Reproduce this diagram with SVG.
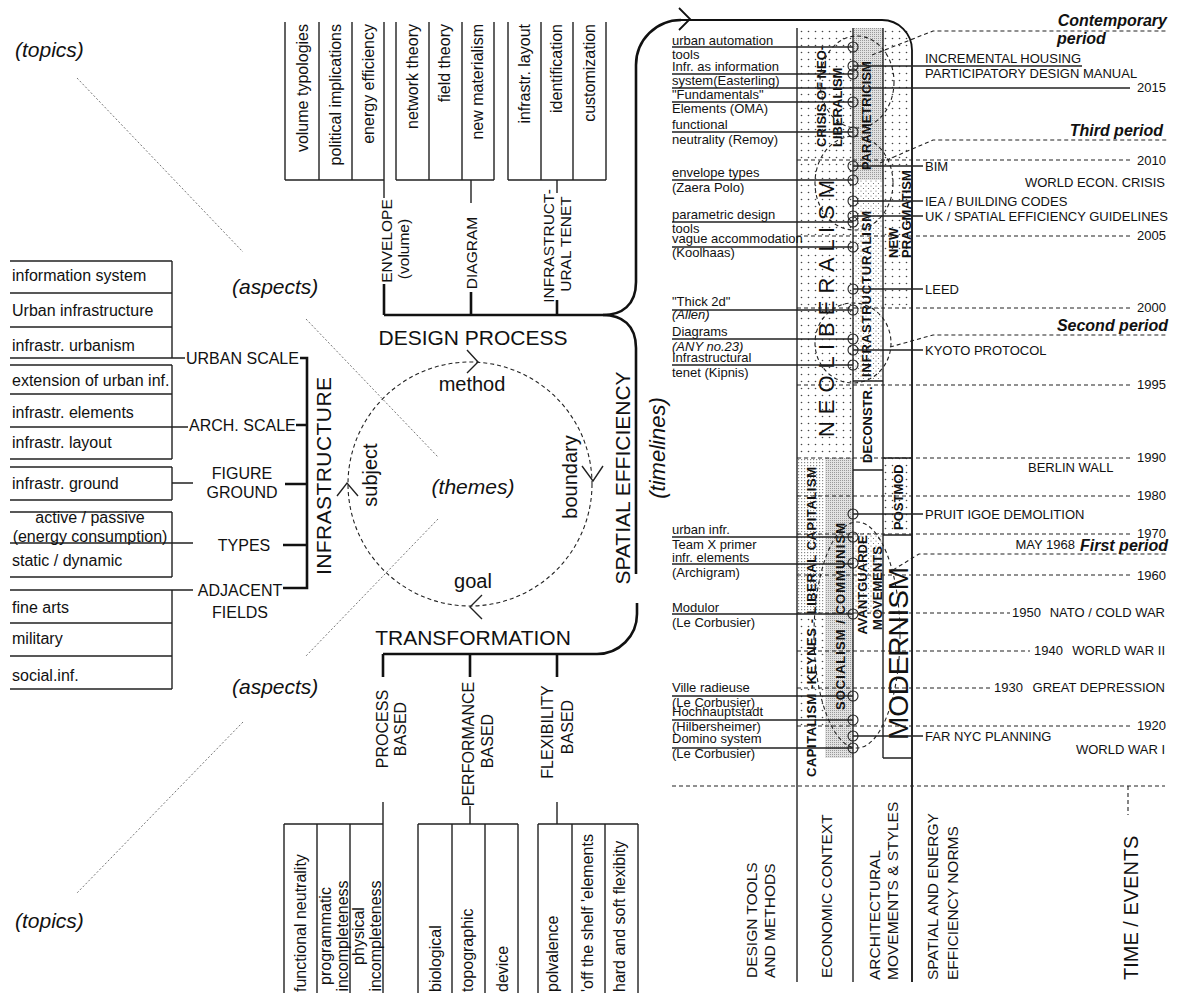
<svg xmlns="http://www.w3.org/2000/svg" width="1181" height="993" viewBox="0 0 1181 993">
<defs>
<style>
text{font-family:"Liberation Sans",Arial,Helvetica,sans-serif;fill:#111}
.it{font-style:italic}
.b{font-weight:bold}
.ln{stroke:#222;stroke-width:1.4;fill:none}
.thk{stroke:#111;stroke-width:2.6;fill:none}
.fr{stroke:#111;stroke-width:1.8;fill:none}
.dsh{stroke:#222;stroke-width:1.1;stroke-dasharray:4 3;fill:none}
.dot{stroke:#666;stroke-width:0.9;stroke-dasharray:2 2;fill:none}
.c{fill:none;stroke:#222;stroke-width:1.1}
.r{dominant-baseline:central}
.f13{font-size:13px}
.f15{font-size:15.5px}
.f16{font-size:16px}
.f20{font-size:20px}
.f21{font-size:21px}
.bi{font-weight:bold;font-style:italic;font-size:16px}
</style>
<pattern id="sp" width="7" height="7" patternUnits="userSpaceOnUse"><circle cx="3.5" cy="3.5" r="0.8" fill="#444"/></pattern>
<pattern id="dn" width="2" height="2" patternUnits="userSpaceOnUse"><rect width="2" height="2" fill="#e2e2e2"/><rect width="1" height="1" fill="#9a9a9a"/></pattern>
<pattern id="st" width="5" height="5" patternUnits="userSpaceOnUse"><circle cx="1" cy="1" r="0.6" fill="#666"/><circle cx="3.5" cy="3.5" r="0.6" fill="#666"/></pattern>
<pattern id="fn" width="3" height="3" patternUnits="userSpaceOnUse"><rect width="1.2" height="1.2" fill="#8a8a8a"/></pattern>
</defs>
<rect width="1181" height="993" fill="#fff"/>

<g id="annotations">
<text x="15" y="57" class="it f21">(topics)</text>
<text x="232" y="294" class="it f21">(aspects)</text>
<text x="232" y="694" class="it f21">(aspects)</text>
<text x="15" y="928" class="it f21">(topics)</text>
<line x1="77" y1="78" x2="243" y2="252" class="dot"/>
<line x1="306" y1="319" x2="438" y2="457" class="dot"/>
<line x1="438" y1="519" x2="306" y2="656" class="dot"/>
<line x1="243" y1="722" x2="77" y2="893" class="dot"/>
</g>

<g id="connectors">
<path class="thk" d="M681 20 A45 45 0 0 0 636 65 L636 282 C636 305 622 315 603 315 L384 315"/>
<path class="thk" d="M603 315 C622 315 636 325 636 348 L636 574"/>
<path class="thk" d="M637 603 L637 614 A40 40 0 0 1 597 654 L383 654"/>
<path class="fr" d="M679 8 L690 19 L679 30"/>
<path class="thk" d="M384 284 L384 315 M471 292 L471 315 M557 300 L557 315"/>
<path class="ln" d="M384 180 L384 198 M471 180 L471 203 M557 180 L557 193"/>
<path class="thk" d="M383 654 L383 677 M470 654 L470 677 M557 654 L557 677"/>
<path class="ln" d="M383 802 L383 824 M470 806 L470 824 M557 802 L557 824"/>
<path class="thk" d="M300 358 L307 358 L307 588 L283 588 M296 425 L307 425 M285 484 L307 484 M283 545 L307 545"/>
<path class="ln" d="M172 358 L185 358 M172 427 L188 427 M172 483 L193 483 M10 543 L193 543 M10 590 L193 590"/>
</g>

<g id="envelope">
<path class="ln" d="M285 22 V180 M319 22 V180 M352 22 V180 M384 22 V180 M285 180 H384"/>
<text transform="translate(302,24) rotate(-90)" text-anchor="end" class="r f16">volume typologies</text>
<text transform="translate(335,24) rotate(-90)" text-anchor="end" class="r f16">political implications</text>
<text transform="translate(368,24) rotate(-90)" text-anchor="end" class="r f16">energy efficiency</text>
<text transform="translate(386,241) rotate(-90)" text-anchor="middle" class="r f15">ENVELOPE</text>
<text transform="translate(403,249) rotate(-90)" text-anchor="middle" class="r f15">(volume)</text>
</g>

<g id="diagram">
<path class="ln" d="M396 22 V180 M429 22 V180 M462 22 V180 M494 22 V180 M396 180 H494"/>
<text transform="translate(412,24) rotate(-90)" text-anchor="end" class="r f16">network theory</text>
<text transform="translate(444,24) rotate(-90)" text-anchor="end" class="r f16">field theory</text>
<text transform="translate(477,24) rotate(-90)" text-anchor="end" class="r f16">new materialism</text>
<text transform="translate(471,253) rotate(-90)" text-anchor="middle" class="r f15">DIAGRAM</text>
</g>

<g id="tenet">
<path class="ln" d="M508 22 V180 M541 22 V180 M573 22 V180 M606 22 V180 M508 180 H606"/>
<text transform="translate(524,24) rotate(-90)" text-anchor="end" class="r f16">infrastr. layout</text>
<text transform="translate(556,24) rotate(-90)" text-anchor="end" class="r f16">identification</text>
<text transform="translate(589,24) rotate(-90)" text-anchor="end" class="r f16">customization</text>
<text transform="translate(548,246) rotate(-90)" text-anchor="middle" class="r f15">INFRASTRUCT-</text>
<text transform="translate(565,244) rotate(-90)" text-anchor="middle" class="r f15">URAL TENET</text>
</g>

<g id="urban-scale">
<path class="ln" d="M10 261 H172 M10 293 H172 M10 327 H172 M10 358 H172 M172 261 V358"/>
<text x="12" y="281" class="f16">information system</text>
<text x="12" y="316" class="f16">Urban infrastructure</text>
<text x="12" y="351" class="f16">infrastr. urbanism</text>
<text x="186" y="364" class="f16">URBAN SCALE</text>
</g>

<g id="arch-scale">
<path class="ln" d="M10 365 H172 M10 394 H172 M10 427 H172 M10 459 H172 M172 365 V459"/>
<text x="12" y="386" class="f16">extension of urban inf.</text>
<text x="12" y="418" class="f16">infrastr. elements</text>
<text x="12" y="448" class="f16">infrastr. layout</text>
<text x="189" y="431" class="f16">ARCH. SCALE</text>
</g>

<g id="figure-ground">
<path class="ln" d="M10 467 H172 M10 500 H172 M172 467 V500"/>
<text x="12" y="489" class="f16">infrastr. ground</text>
<text x="242" y="479" text-anchor="middle" class="f16">FIGURE</text>
<text x="242" y="498" text-anchor="middle" class="f16">GROUND</text>
</g>

<g id="types">
<path class="ln" d="M10 512 H172 M10 577 H172 M172 512 V577"/>
<text x="90" y="523" text-anchor="middle" class="f16">active / passive</text>
<text x="90" y="542" text-anchor="middle" class="f16">(energy consumption)</text>
<text x="12" y="566" class="f16">static / dynamic</text>
<text x="244" y="551" text-anchor="middle" class="f16">TYPES</text>
</g>

<g id="adjacent-fields">
<path class="ln" d="M10 623 H172 M10 656 H172 M10 689 H172 M172 590 V689"/>
<text x="12" y="613" class="f16">fine arts</text>
<text x="12" y="644" class="f16">military</text>
<text x="12" y="681" class="f16">social.inf.</text>
<text x="240" y="596" text-anchor="middle" class="f16">ADJACENT</text>
<text x="240" y="618" text-anchor="middle" class="f16">FIELDS</text>
</g>

<g id="themes">
<circle cx="470" cy="484" r="122" class="dsh"/>
<path class="ln" d="M467 350 L478 362 L467 373 M582 466 L593 481 L603 466 M482 595 L470 607 L482 619 M337 496 L347 483 L358 496"/>
<text x="473" y="345" text-anchor="middle" class="f21">DESIGN PROCESS</text>
<text x="473" y="645" text-anchor="middle" class="f21">TRANSFORMATION</text>
<text transform="translate(323,476) rotate(-90)" text-anchor="middle" class="r f21" textLength="198">INFRASTRUCTURE</text>
<text transform="translate(622,478) rotate(-90)" text-anchor="middle" class="r f21">SPATIAL EFFICIENCY</text>
<text x="472" y="391" text-anchor="middle" class="f20">method</text>
<text x="473" y="588" text-anchor="middle" class="f20">goal</text>
<text transform="translate(370,475) rotate(-90)" text-anchor="middle" class="r f20">subject</text>
<text transform="translate(570,477) rotate(-90)" text-anchor="middle" class="r f20">boundary</text>
<text x="473" y="494" text-anchor="middle" class="it f21">(themes)</text>
<text transform="translate(657,448) rotate(-90)" text-anchor="middle" class="r it" font-size="22">(timelines)</text>
</g>

<g id="process-based">
<path class="ln" d="M284 824 H383 M284 824 V993 M317 824 V993 M350 824 V993 M383 824 V993"/>
<text transform="translate(382,729) rotate(-90)" text-anchor="middle" class="r f16">PROCESS</text>
<text transform="translate(400,729) rotate(-90)" text-anchor="middle" class="r f16">BASED</text>
<text transform="translate(300,992) rotate(-90)" class="r f16">functional neutrality</text>
<text transform="translate(325,936) rotate(-90)" text-anchor="middle" class="r f16">programmatic</text>
<text transform="translate(342,936) rotate(-90)" text-anchor="middle" class="r f16">incompleteness</text>
<text transform="translate(358,936) rotate(-90)" text-anchor="middle" class="r f16">physical</text>
<text transform="translate(375,936) rotate(-90)" text-anchor="middle" class="r f16">incompleteness</text>
</g>

<g id="performance-based">
<path class="ln" d="M418 824 H518 M418 824 V993 M452 824 V993 M485 824 V993 M518 824 V993"/>
<text transform="translate(468,744) rotate(-90)" text-anchor="middle" class="r f16">PERFORMANCE</text>
<text transform="translate(487,741) rotate(-90)" text-anchor="middle" class="r f16">BASED</text>
<text transform="translate(435,992) rotate(-90)" class="r f16">biological</text>
<text transform="translate(467,992) rotate(-90)" class="r f16">topographic</text>
<text transform="translate(502,992) rotate(-90)" class="r f16">device</text>
</g>

<g id="flexibility-based">
<path class="ln" d="M538 824 H638 M538 824 V993 M572 824 V993 M605 824 V993 M638 824 V993"/>
<text transform="translate(547,732) rotate(-90)" text-anchor="middle" class="r f16">FLEXIBILITY</text>
<text transform="translate(567,727) rotate(-90)" text-anchor="middle" class="r f16">BASED</text>
<text transform="translate(552,992) rotate(-90)" class="r f16">polvalence</text>
<text transform="translate(587,992) rotate(-90)" class="r f16">'off the shelf 'elements</text>
<text transform="translate(619,992) rotate(-90)" class="r f16">hard and soft flexibity</text>
</g>

<g id="timeline-fills">
<rect x="797" y="28" width="56" height="430" fill="url(#sp)"/>
<rect x="853" y="28" width="30" height="152" fill="url(#dn)"/>
<rect x="853" y="180" width="30" height="201" fill="url(#st)"/>
<rect x="883" y="28" width="29" height="280" fill="url(#sp)"/>
<rect x="883" y="458" width="29" height="77" fill="url(#sp)"/>
<rect x="797" y="458" width="28" height="155" fill="url(#fn)"/>
<rect x="797" y="613" width="28" height="114" fill="url(#sp)"/>
<rect x="825" y="458" width="28" height="300" fill="url(#dn)"/>
<rect x="853" y="533" width="30" height="82" fill="url(#st)"/>
</g>

<g id="timeline-frame">
<path class="fr" d="M681 20 L882 20 A30 30 0 0 1 912 50 L912 982"/>
<path class="ln" d="M797 28 V982 M853 28 V982 M883 28 V758"/>
<path class="ln" d="M853 381 H883 M853 470 H883 M883 458 H912 M883 535 H912 M883 758 H912"/>
<line x1="672" y1="786" x2="1165" y2="786" class="dsh"/>
<line x1="1128" y1="786" x2="1128" y2="815" class="dsh"/>
</g>

<g id="timeline-styles">
<text transform="translate(826,437) rotate(-90)" class="r" font-size="22" textLength="257" lengthAdjust="spacing">N E O L I B E R A L I S M</text>
<text transform="translate(821,147) rotate(-90)" class="r b f13">CRISIS OF NEO-</text>
<text transform="translate(837,147) rotate(-90)" class="r b f13">LIBERALISM</text>
<text transform="translate(866,170) rotate(-90)" class="r b f13">PARAMETRICISM</text>
<text transform="translate(866,377) rotate(-90)" class="r b f13" textLength="166">INFRASTRUCTURALISM</text>
<text transform="translate(893,258) rotate(-90)" class="r b f13">NEW</text>
<text transform="translate(906,258) rotate(-90)" class="r b f13">PRAGMATISM</text>
<text transform="translate(867,463) rotate(-90)" class="r b f13">DECONSTR.</text>
<text transform="translate(898,530) rotate(-90)" class="r b f13">POSTMOD</text>
<text transform="translate(862,585) rotate(-90)" text-anchor="middle" class="r b f13">AVANTGUARDE</text>
<text transform="translate(877,588) rotate(-90)" text-anchor="middle" class="r b f13">MOVEMENTS</text>
<text transform="translate(840,710) rotate(-90)" class="r b f13" textLength="187">SOCIALISM / COMMUNISM</text>
<text transform="translate(811,777) rotate(-90)" class="r b f13" textLength="310">CAPITALISM -KEYNES - LIBERAL CAPITALISM</text>
<text transform="translate(898,740) rotate(-90)" class="r" font-size="28" textLength="173">MODERNISM</text>
</g>

<g id="periods">
<ellipse cx="857" cy="82" rx="37" ry="46" class="dsh"/>
<path class="dsh" d="M872 55 L933 31 L1167 31"/>
<text x="1167" y="26" text-anchor="end" class="bi">Contemporary</text>
<text x="1057" y="44" class="bi">period</text>
<ellipse cx="854" cy="183" rx="39" ry="47" class="dsh"/>
<path class="dsh" d="M880 163 L933 140 L1167 140"/>
<text x="1163" y="136" text-anchor="end" class="bi">Third period</text>
<ellipse cx="853" cy="343" rx="38" ry="40" class="dsh"/>
<path class="dsh" d="M890 347 L933 335 L1168 335"/>
<text x="1168" y="331" text-anchor="end" class="bi">Second period</text>
<ellipse cx="857" cy="635" rx="43" ry="113" class="dsh"/>
<path class="dsh" d="M893 570 L919 554 L1167 554"/>
<text x="1168" y="551" text-anchor="end" class="bi">First period</text>
</g>

<g id="years">
<line x1="672" y1="88" x2="1130" y2="88" class="ln"/>
<path class="dsh" d="M797 160 H1130 M797 236 H1130 M797 308 H1130 M797 385 H1130 M797 458 H1133 M797 496 H1133 M797 534 H1133 M797 575 H1133 M797 613 H1010 M797 651 H1030 M797 688 H990 M797 726 H1130"/>
<text x="1137" y="92" class="f13">2015</text>
<text x="1137" y="165" class="f13">2010</text>
<text x="1137" y="240" class="f13">2005</text>
<text x="1137" y="312" class="f13">2000</text>
<text x="1137" y="389" class="f13">1995</text>
<text x="1137" y="462" class="f13">1990</text>
<text x="1137" y="500" class="f13">1980</text>
<text x="1137" y="538" class="f13">1970</text>
<text x="1137" y="580" class="f13">1960</text>
<text x="1012" y="617" class="f13">1950</text>
<text x="1034" y="655" class="f13">1940</text>
<text x="994" y="692" class="f13">1930</text>
<text x="1137" y="730" class="f13">1920</text>
</g>

<g id="design-tools">
<path class="ln" d="M672 47 H853 M672 74 H853 M672 102 H853 M672 132 H853 M672 180 H853 M672 222 H853 M672 247 H853 M672 310 H853 M672 339 H853 M672 365 H853 M672 537 H853 M672 564 H853 M672 614 H853 M672 696 H853 M672 720 H853 M672 748 H853"/>
<text x="672" y="45" class="f13">urban automation</text>
<text x="672" y="59" class="f13">tools</text>
<text x="672" y="71" class="f13">Infr. as information</text>
<text x="672" y="85" class="f13">system(Easterling)</text>
<text x="672" y="99" class="f13">"Fundamentals"</text>
<text x="672" y="113" class="f13">Elements (OMA)</text>
<text x="672" y="129" class="f13">functional</text>
<text x="672" y="144" class="f13">neutrality (Remoy)</text>
<text x="672" y="177" class="f13">envelope types</text>
<text x="672" y="192" class="f13">(Zaera Polo)</text>
<text x="672" y="219" class="f13">parametric design</text>
<text x="672" y="233" class="f13">tools</text>
<text x="672" y="243" class="f13">vague accommodation</text>
<text x="672" y="257" class="f13">(Koolhaas)</text>
<text x="672" y="306" class="f13">"Thick 2d"</text>
<text x="672" y="319" class="f13 it">(Allen)</text>
<text x="672" y="336" class="f13">Diagrams</text>
<text x="672" y="351" class="f13 it">(ANY no.23)</text>
<text x="672" y="362" class="f13">Infrastructural</text>
<text x="672" y="377" class="f13">tenet (Kipnis)</text>
<text x="672" y="534" class="f13">urban infr.</text>
<text x="672" y="549" class="f13">Team X primer</text>
<text x="672" y="562" class="f13">infr. elements</text>
<text x="672" y="577" class="f13">(Archigram)</text>
<text x="672" y="612" class="f13">Modulor</text>
<text x="672" y="627" class="f13">(Le Corbusier)</text>
<text x="672" y="692" class="f13">Ville radieuse</text>
<text x="672" y="707" class="f13">(Le Corbusier)</text>
<text x="672" y="716" class="f13">Hochhauptstadt</text>
<text x="672" y="731" class="f13">(Hilbersheimer)</text>
<text x="672" y="743" class="f13">Domino system</text>
<text x="672" y="758" class="f13">(Le Corbusier)</text>
</g>

<g id="events">
<path class="ln" d="M853 66 H1082 M853 166 H923 M853 201 H923 M853 216 H923 M853 289 H923 M853 350 H923 M853 514 H923 M853 736 H923"/>
<g class="c">
<circle cx="853" cy="47" r="5"/><circle cx="853" cy="66" r="5"/><circle cx="853" cy="74" r="5"/><circle cx="853" cy="102" r="5"/><circle cx="853" cy="132" r="5"/><circle cx="853" cy="166" r="5"/><circle cx="853" cy="180" r="5"/><circle cx="853" cy="201" r="5"/><circle cx="853" cy="216" r="5"/><circle cx="853" cy="222" r="5"/><circle cx="853" cy="247" r="5"/><circle cx="853" cy="289" r="5"/><circle cx="853" cy="310" r="5"/><circle cx="853" cy="339" r="5"/><circle cx="853" cy="350" r="5"/><circle cx="853" cy="365" r="5"/><circle cx="853" cy="514" r="5"/><circle cx="853" cy="537" r="5"/><circle cx="853" cy="563" r="5"/><circle cx="853" cy="614" r="5"/><circle cx="853" cy="696" r="5"/><circle cx="853" cy="720" r="5"/><circle cx="853" cy="736" r="5"/><circle cx="853" cy="748" r="5"/>
</g>
<text x="925" y="63" class="f13">INCREMENTAL HOUSING</text>
<text x="925" y="78" class="f13">PARTICIPATORY DESIGN MANUAL</text>
<text x="925" y="171" class="f13">BIM</text>
<text x="1165" y="187" text-anchor="end" class="f13">WORLD ECON. CRISIS</text>
<text x="925" y="206" class="f13">IEA / BUILDING CODES</text>
<text x="925" y="221" class="f13">UK / SPATIAL EFFICIENCY GUIDELINES</text>
<text x="925" y="294" class="f13">LEED</text>
<text x="925" y="355" class="f13">KYOTO PROTOCOL</text>
<text x="1028" y="472" class="f13">BERLIN WALL</text>
<text x="925" y="519" class="f13">PRUIT IGOE DEMOLITION</text>
<text x="1075" y="549" text-anchor="end" class="f13">MAY 1968</text>
<text x="1165" y="617" text-anchor="end" class="f13">NATO / COLD WAR</text>
<text x="1165" y="655" text-anchor="end" class="f13">WORLD WAR II</text>
<text x="1165" y="692" text-anchor="end" class="f13">GREAT DEPRESSION</text>
<text x="925" y="741" class="f13">FAR NYC PLANNING</text>
<text x="1165" y="754" text-anchor="end" class="f13">WORLD WAR I</text>
</g>

<g id="column-headers">
<text transform="translate(751,978) rotate(-90)" class="r f15">DESIGN TOOLS</text>
<text transform="translate(769,978) rotate(-90)" class="r f15">AND METHODS</text>
<text transform="translate(826,978) rotate(-90)" class="r f15">ECONOMIC CONTEXT</text>
<text transform="translate(874,980) rotate(-90)" class="r f15">ARCHITECTURAL</text>
<text transform="translate(892,980) rotate(-90)" class="r f15">MOVEMENTS &amp; STYLES</text>
<text transform="translate(932,980) rotate(-90)" class="r f15">SPATIAL AND ENERGY</text>
<text transform="translate(952,980) rotate(-90)" class="r f15">EFFICIENCY NORMS</text>
<text transform="translate(1131,980) rotate(-90)" class="r f20">TIME / EVENTS</text>
</g>
</svg>
